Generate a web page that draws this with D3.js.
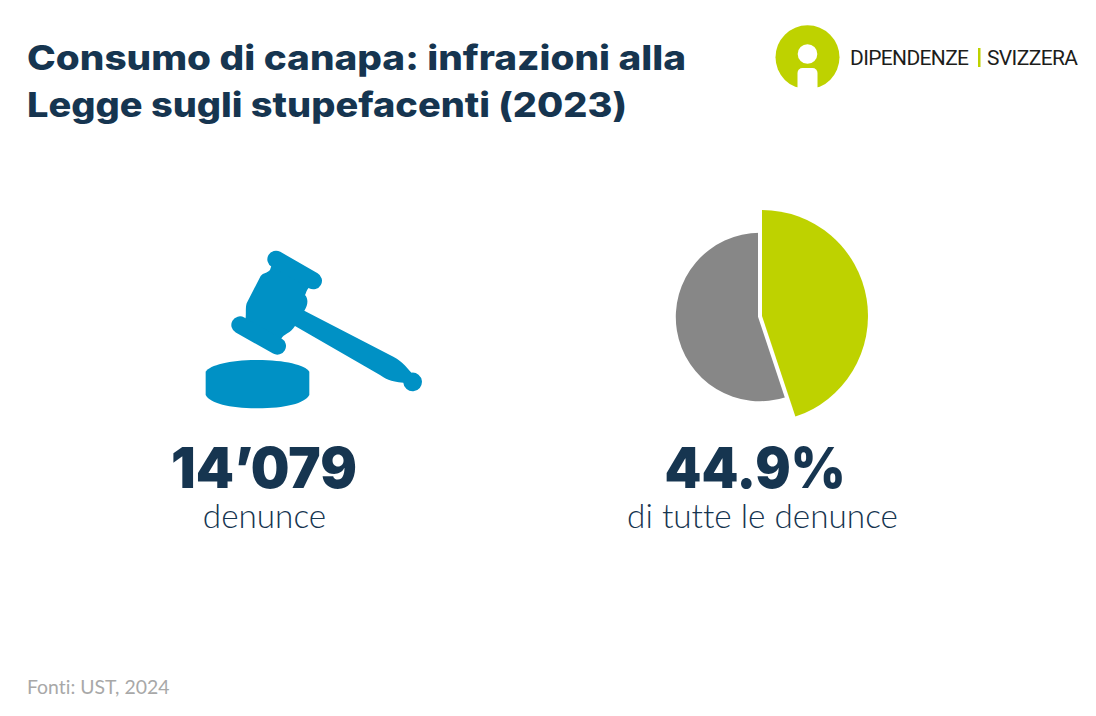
<!DOCTYPE html>
<html>
<head>
<meta charset="utf-8">
<script src="https://cdn.jsdelivr.net/npm/d3@7"></script>
<style>
  html, body { margin: 0; padding: 0; background: #fff; }
  svg { display: block; }
  text { font-variant-ligatures: none; }
</style>
</head>
<body>
<div id="container"></div>
<script>
const titleLines = ['Consumo di canapa: infrazioni alla', 'Legge sugli stupefacenti (2023)'];
const statValues = ['14’079', '44.9%'];
const statLabels = ['denunce', 'di tutte le denunce'];
const sliceNames = ['canapa', 'altre'];
const sliceShares = [44.9, 55.1];
const sourceText = 'Fonti: UST, 2024';
const logoWords = ['DIPENDENZE', 'SVIZZERA'];

const width = 1096;
const height = 716;
const navy = '#163550';
const lime = '#bed200';
const grey = '#878787';
const blue = '#0091c5';
const titleFont = 'Inter, "Liberation Sans", sans-serif';
const bodyFont = 'Lato, "Open Sans", sans-serif';

const svg = d3.select('#container').append('svg')
    .attr('width', width)
    .attr('height', height)
    .attr('viewBox', [0, 0, width, height]);

// Title, stretched to the wide look of the original face
const titleWidths = [659, 600];
svg.append('g')
    .selectAll('text')
    .data(titleLines)
    .enter().append('text')
    .attr('x', 27)
    .attr('y', (d, i) => 70 + i * 47)
    .attr('textLength', (d, i) => titleWidths[i])
    .attr('lengthAdjust', 'spacingAndGlyphs')
    .attr('font-family', titleFont)
    .attr('font-size', 34)
    .attr('font-weight', 800)
    .attr('fill', navy)
    .text(d => d);

// Logo
const logo = svg.append('g');
const logoClip = svg.append('defs').append('clipPath').attr('id', 'logo-clip');
logoClip.append('rect').attr('x', 770).attr('y', 20).attr('width', 80).attr('height', 67.5);
logo.append('circle')
    .attr('cx', 807.5).attr('cy', 57.3).attr('r', 32)
    .attr('fill', lime)
    .attr('clip-path', 'url(#logo-clip)');
logo.append('circle')
    .attr('cx', 807.5).attr('cy', 54).attr('r', 9.8)
    .attr('fill', '#fff');
logo.append('path')
    .attr('d', 'M797.5,90V73a5,5 0 0 1 5,-5h10a5,5 0 0 1 5,5V90Z')
    .attr('fill', '#fff');
logo.append('rect')
    .attr('x', 978).attr('y', 48).attr('width', 2.5).attr('height', 19)
    .attr('fill', lime);
logo.selectAll('text')
    .data(logoWords)
    .enter().append('text')
    .attr('x', (d, i) => [850, 987][i])
    .attr('y', 65)
    .attr('textLength', (d, i) => [119, 91][i])
    .attr('lengthAdjust', 'spacing')
    .attr('font-family', '"Liberation Sans Narrow", Roboto, sans-serif')
    .attr('font-size', 21)
    .attr('fill', '#1d1d1b')
    .text(d => d);

// Gavel icon, traced at 3x
const gavel = svg.append('g')
    .attr('transform', 'translate(190,240) scale(0.3333)')
    .attr('fill', blue);
gavel.append('path').attr('d', 'M47,395C60,375 120,360 202,360C285,360 345,375 358,395V465C345,490 285,505 202,505C120,505 60,490 47,465Z');
gavel.append('path').attr('d', 'M250,60L370,130C345,150 350,160 345,165C355,175 355,195 343,212L610,350C640,365 655,390 665,398A28,28 0 1 1 640,428C600,425 585,415 570,405L315,258C300,280 285,282 278,290L262,310L150,250L165,240C170,230 165,205 170,190L212,108C220,98 232,100 240,90Z');
gavel.append('path')
    .attr('d', 'M258,58L370,122M150,255L262,318')
    .attr('fill', 'none')
    .attr('stroke', blue)
    .attr('stroke-width', 52)
    .attr('stroke-linecap', 'round');

// Pie: grey first, the lime slice sits on top with a white edge
const pie = d3.pie().sort(null).value(d => d);
const slices = pie(sliceShares);
const sliceStyles = [
    { cx: 762, cy: 316, r: 106, fill: lime, edge: '#fff' },
    { cx: 760, cy: 317, r: 84.2, fill: grey, edge: 'none' }
];
svg.append('g')
    .selectAll('path')
    .data(slices.slice().reverse())
    .enter().append('path')
    .attr('transform', d => `translate(${sliceStyles[d.index].cx},${sliceStyles[d.index].cy})`)
    .attr('d', d => d3.arc().innerRadius(0).outerRadius(sliceStyles[d.index].r)(d))
    .attr('fill', d => sliceStyles[d.index].fill)
    .attr('stroke', d => sliceStyles[d.index].edge)
    .attr('stroke-width', 8)
    .attr('stroke-linejoin', 'miter')
    .style('paint-order', 'stroke')
    .append('title')
    .text(d => sliceNames[d.index]);

// Numbers under the icons
const statX = [264, 755];
const statWidths = [186, 181];
svg.append('g')
    .selectAll('text')
    .data(statValues)
    .enter().append('text')
    .attr('x', (d, i) => statX[i])
    .attr('y', 488)
    .attr('text-anchor', 'middle')
    .attr('textLength', (d, i) => statWidths[i])
    .attr('lengthAdjust', 'spacingAndGlyphs')
    .attr('font-family', titleFont)
    .attr('font-size', 56)
    .attr('font-weight', 900)
    .attr('fill', navy)
    .text(d => d);

const labelX = [264.5, 762.5];
svg.append('g')
    .selectAll('text')
    .data(statLabels)
    .enter().append('text')
    .attr('x', (d, i) => labelX[i])
    .attr('y', 528)
    .attr('text-anchor', 'middle')
    .attr('font-family', bodyFont)
    .attr('font-size', 33.3)
    .attr('font-weight', 300)
    .attr('fill', navy)
    .text(d => d);

// Source
svg.append('text')
    .attr('x', 27)
    .attr('y', 694)
    .attr('font-family', bodyFont)
    .attr('font-size', 19.4)
    .attr('font-weight', 400)
    .attr('fill', '#a8a8a8')
    .text(sourceText);
</script>
</body>
</html>
